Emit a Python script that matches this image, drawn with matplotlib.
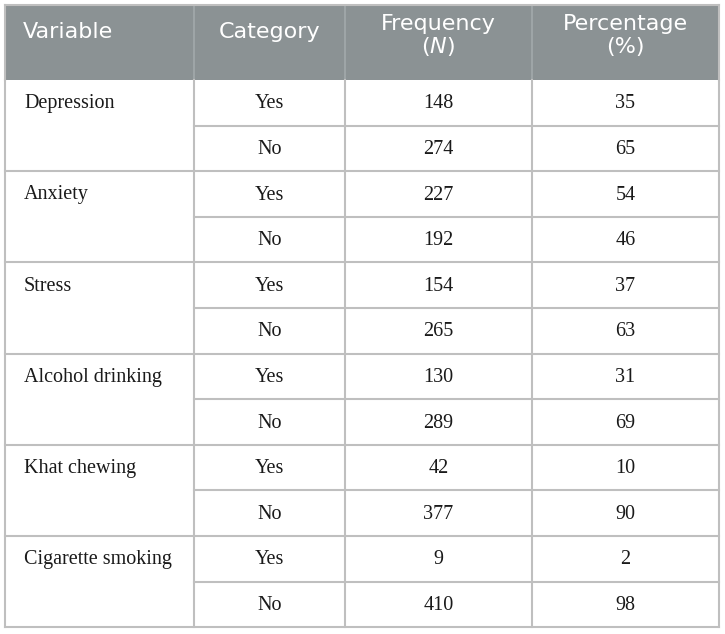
import matplotlib
matplotlib.use("Agg")
import matplotlib.pyplot as plt

# table contents
variables = ["Depression", "Anxiety", "Stress", "Alcohol drinking", "Khat chewing", "Cigarette smoking"]
categories = ["Yes", "No"]
freq_yes = [148, 227, 154, 130, 42, 9]
freq_no = [274, 192, 265, 289, 377, 410]
pct_yes = [35, 54, 37, 31, 10, 2]
pct_no = [65, 46, 63, 69, 90, 98]

W, H = 725, 634
col_x = [5, 194, 345, 532, 719]
top, head_bot = 5, 80
row_h = 45.6
line_col = "#bfbfbf"
head_col = "#8b9294"

plt.rcParams["mathtext.fontset"] = "custom"
plt.rcParams["mathtext.it"] = "DejaVu Sans:italic"

fig = plt.figure(figsize=(W / 100, H / 100), dpi=100)
ax = fig.add_axes([0, 0, 1, 1])
ax.set_xlim(0, W)
ax.set_ylim(H, 0)
ax.axis("off")

# header
ax.add_patch(plt.Rectangle((col_x[0], top), col_x[-1] - col_x[0], head_bot - top,
                           facecolor=head_col, edgecolor="none"))
for x in col_x[1:-1]:
    ax.plot([x, x], [top, head_bot], color="#a3a9ab", lw=1.2)

hfont = dict(family="DejaVu Sans", size=16, color="white", va="center")
ax.text(col_x[0] + 18, 32, "Variable", ha="left", **hfont)
ax.text((col_x[1] + col_x[2]) / 2, 32, "Category", ha="center", **hfont)
ax.text((col_x[2] + col_x[3]) / 2, 24, "Frequency", ha="center", **hfont)
ax.text((col_x[2] + col_x[3]) / 2, 47, "($\\mathit{N}$)", ha="center", **hfont)
ax.text((col_x[3] + col_x[4]) / 2, 24, "Percentage", ha="center", **hfont)
ax.text((col_x[3] + col_x[4]) / 2, 47, "(%)", ha="center", **hfont)

bfont = dict(family="Liberation Serif", size=14.5, color="#1a1a1a", va="center")
n_rows = len(variables) * 2
bottom = head_bot + n_rows * row_h

for i, var in enumerate(variables):
    y0 = head_bot + 2 * i * row_h
    ax.text(col_x[0] + 19, y0 + row_h / 2 + 1, var, ha="left", **bfont)
    rows = [(categories[0], freq_yes[i], pct_yes[i]), (categories[1], freq_no[i], pct_no[i])]
    for j, (cat, f, p) in enumerate(rows):
        yc = y0 + (j + 0.5) * row_h + 1
        ax.text((col_x[1] + col_x[2]) / 2, yc, cat, ha="center", **bfont)
        ax.text((col_x[2] + col_x[3]) / 2, yc, str(f), ha="center", **bfont)
        ax.text((col_x[3] + col_x[4]) / 2, yc, str(p), ha="center", **bfont)
    # line between yes and no (not across the variable column)
    ax.plot([col_x[1], col_x[-1]], [y0 + row_h, y0 + row_h], color=line_col, lw=1.5)
    # group line
    ax.plot([col_x[0], col_x[-1]], [y0 + 2 * row_h, y0 + 2 * row_h], color=line_col, lw=1.5)

# vertical lines in body
for x in col_x:
    ax.plot([x, x], [head_bot, bottom], color=line_col, lw=1.5)
# outer top border
ax.plot([col_x[0], col_x[-1]], [top, top], color=line_col, lw=1.5)
for x in (col_x[0], col_x[-1]):
    ax.plot([x, x], [top, head_bot], color=line_col, lw=1.5)

fig.savefig("out.png", dpi=100)
